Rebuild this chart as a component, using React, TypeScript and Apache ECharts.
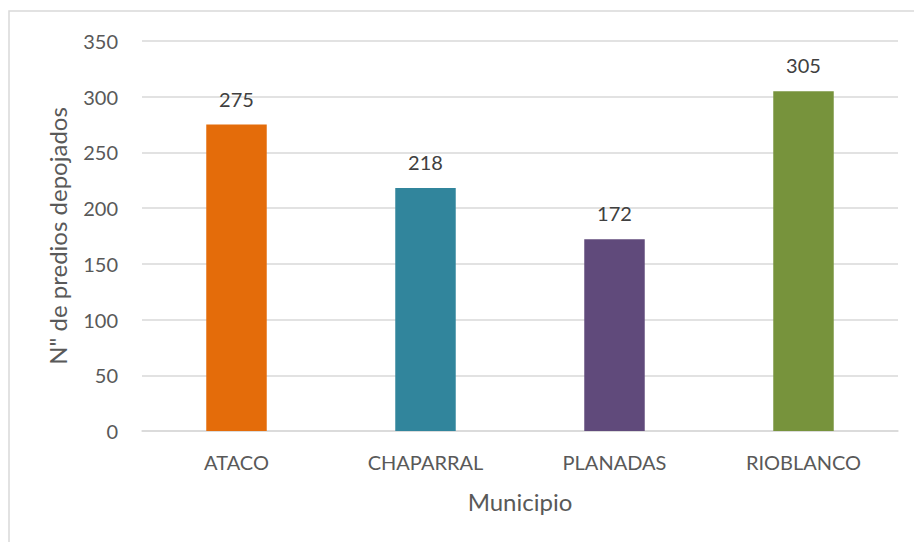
import React, { useEffect, useRef } from "react";
import * as echarts from "echarts";

const categories = ["ATACO", "CHAPARRAL", "PLANADAS", "RIOBLANCO"];
const values = [275, 218, 172, 305];
const barColors = ["#E46C0A", "#31859C", "#604A7B", "#77933C"];
const yTicks = { min: 0, max: 350, interval: 50 };

export default function App() {
  const ref = useRef<HTMLDivElement>(null);
  useEffect(() => {
    if (!ref.current) return;
    const chart = echarts.init(ref.current, null, { renderer: "svg" });
    const font = "Lato, 'Open Sans', sans-serif";
    chart.setOption({
      animation: false,
      textStyle: { fontFamily: font },
      graphic: [
        {
          type: "rect",
          shape: { x: 9, y: 11, width: 1000, height: 1000 },
          style: { fill: "none", stroke: "#d9d9d9", lineWidth: 1.5 },
          silent: true,
        },
      ],
      grid: { left: 142, right: 16, top: 41, bottom: 111 },
      xAxis: {
        type: "category",
        data: categories,
        name: "Municipio",
        nameLocation: "middle",
        nameGap: 58,
        nameTextStyle: { fontSize: 24, color: "#595959", fontFamily: font },
        axisLine: { lineStyle: { color: "#d9d9d9", width: 1.5 } },
        axisTick: { show: false },
        axisLabel: { fontSize: 20, color: "#595959", margin: 21, fontFamily: font },
      },
      yAxis: {
        type: "value",
        min: yTicks.min,
        max: yTicks.max,
        interval: yTicks.interval,
        name: 'N" de predios depojados',
        nameLocation: "middle",
        nameGap: 73,
        nameTextStyle: { fontSize: 24, color: "#595959", fontFamily: font },
        axisLine: { show: false },
        axisTick: { show: false },
        axisLabel: { fontSize: 20, color: "#595959", margin: 24, fontFamily: font },
        splitLine: { lineStyle: { color: "#d9d9d9", width: 1.5 } },
      },
      series: [
        {
          type: "bar",
          data: values.map((v, i) => ({ value: v, itemStyle: { color: barColors[i] } })),
          barWidth: "32%",
          label: {
            show: true,
            position: "top",
            distance: 16,
            fontSize: 20,
            color: "#404040",
            fontFamily: font,
          },
        },
      ],
    });
    return () => chart.dispose();
  }, []);
  return (
    <div
      ref={ref}
      style={{ position: "fixed", left: 0, top: 0, width: 914, height: 542, background: "#fff" }}
    />
  );
}
